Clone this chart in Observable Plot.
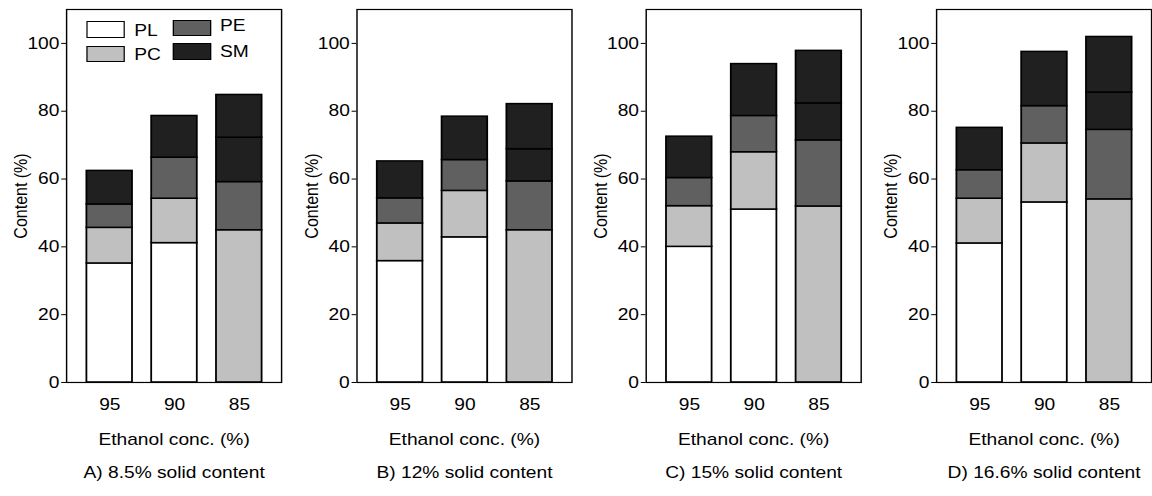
<!DOCTYPE html>
<html><head><meta charset="utf-8">
<script src="https://cdn.jsdelivr.net/npm/d3@7"></script>
<script src="https://cdn.jsdelivr.net/npm/@observablehq/plot@0.6"></script>
<style>
html,body{margin:0;padding:0;background:#fff;overflow:hidden;}
#wrap{position:relative;width:967px;height:496px;transform:scaleX(1.2);transform-origin:0 0;display:flex;font-family:Arial,"Liberation Sans",sans-serif;color:#000;}
.panel{position:relative;width:241.667px;flex:none;}
.panel svg{display:block;}
.sw{position:absolute;box-sizing:border-box;border:1.5px solid #000;width:32.5px;height:16.4px;}
.lb{position:absolute;font-size:16px;line-height:16px;}
</style></head><body><div id="wrap"></div>
<script>
const concentrations = ["95", "90", "85"];
const lipidClasses = ["PL", "PC", "PE", "SM"];
const classColors = ["#ffffff", "#c0c0c0", "#606060", "#202020"];
const panelCaptions = ["A) 8.5% solid content", "B) 12% solid content", "C) 15% solid content", "D) 16.6% solid content"];
const xLabel = "Ethanol conc. (%)";
const yLabel = "Content (%)";
const yTicks = [0, 20, 40, 60, 80, 100];
// segment values per panel (A–D), each ordered 95, 90, 85
const PL = [[35.1, 41.1, 44.9], [35.8, 42.8, 44.9], [40.0, 51.0, 51.9], [41.0, 53.1, 54.0]];
const PC = [[10.5, 13.1, 14.2], [11.1, 13.7, 14.4], [12.0, 16.9, 19.5], [13.2, 17.4, 20.5]];
const PE = [[6.9, 12.1, 13.1], [7.4, 9.1, 9.5], [8.3, 10.7, 10.9], [8.4, 11.0, 11.0]];
const SM = [[9.9, 12.3, 12.6], [10.9, 12.8, 13.3], [12.2, 15.3, 15.5], [12.5, 16.0, 16.4]];

const series = [PL, PC, PE, SM];
const wrap = document.getElementById("wrap");
const font = "Arial, 'Liberation Sans', sans-serif";

panelCaptions.forEach((caption, p) => {
  const rows = [];
  concentrations.forEach((c, i) => {
    lipidClasses.forEach((k, j) => {
      rows.push({conc: c, cls: k, idx: j, value: series[j][p][i]});
    });
  });
  // In the original figure the 85% bar's fills are shifted up by one class
  const fillOf = d => d.conc === "85" ? classColors[Math.min(d.idx + 1, 3)] : classColors[d.idx];
  const chart = Plot.plot({
    width: 241.667, height: 496,
    marginLeft: 55, marginRight: 7.5, marginTop: 9, marginBottom: 114,
    style: {fontFamily: font, fontSize: "16px", color: "#000", background: "#fff", overflow: "visible"},
    x: {domain: concentrations, padding: 0.3, label: null, tickSize: 0, tickPadding: 16},
    y: {domain: [0, 110], ticks: yTicks, label: null, tickSize: 4, tickPadding: 2},
    color: {type: "identity"},
    marks: [
      Plot.barY(rows, {x: "conc", y: "value", fill: fillOf, stroke: "#000", strokeWidth: 1.5}),
      Plot.frame({stroke: "#000", strokeWidth: 1.2}),
      Plot.text([xLabel], {text: d => d, frameAnchor: "bottom", dy: 63, fontSize: 16, fill: "#000"}),
      Plot.text([caption], {text: d => d, frameAnchor: "bottom", dy: 96, fontSize: 16, fill: "#000"}),
      Plot.text([yLabel], {text: d => d, frameAnchor: "left", textAnchor: "middle", dx: -38, rotate: -90, fontSize: 16, fill: "#000"})
    ]
  });
  const div = document.createElement("div");
  div.className = "panel";
  div.appendChild(chart);
  if (p === 0) {
    const pos = [[71.7, 21.3, 111.9, 22.5], [71.7, 45.7, 111.9, 46.5], [143.9, 20, 183.3, 18], [143.9, 43.3, 183.3, 43.5]];
    lipidClasses.forEach((k, j) => {
      const s = document.createElement("div");
      s.className = "sw";
      s.style.left = pos[j][0] + "px"; s.style.top = pos[j][1] + "px";
      s.style.background = classColors[j];
      div.appendChild(s);
      const l = document.createElement("div");
      l.className = "lb";
      l.style.left = pos[j][2] + "px"; l.style.top = pos[j][3] + "px";
      l.textContent = k;
      div.appendChild(l);
    });
  }
  wrap.appendChild(div);
});
</script></body></html>
